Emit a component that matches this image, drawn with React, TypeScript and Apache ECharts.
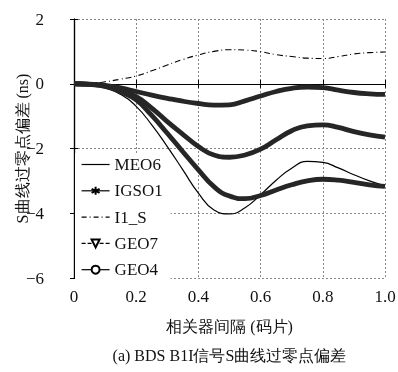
import React, { useEffect, useRef } from "react";
import * as echarts from "echarts";

const xs = [0, 0.05, 0.1, 0.15, 0.2, 0.25, 0.3, 0.35, 0.4, 0.45, 0.5, 0.55, 0.6, 0.65, 0.7, 0.75, 0.8, 0.85, 0.9, 0.95, 1.0];
const meo6 = [0, -0.02, -0.12, -0.33, -0.7, -1.27, -1.94, -2.66, -3.38, -3.9, -4.02, -3.83, -3.43, -2.98, -2.61, -2.4, -2.43, -2.6, -2.81, -3.0, -3.15];
const igso1 = [0, -0.02, -0.07, -0.2, -0.4, -0.75, -1.17, -1.56, -1.94, -2.2, -2.27, -2.2, -2.02, -1.73, -1.45, -1.3, -1.27, -1.35, -1.48, -1.58, -1.65];
const i1s = [0, 0, 0.06, 0.14, 0.24, 0.4, 0.58, 0.75, 0.89, 1.0, 1.05, 1.04, 0.99, 0.9, 0.84, 0.79, 0.78, 0.84, 0.92, 0.96, 0.98];
const geo7 = [0, -0.02, -0.08, -0.25, -0.5, -0.98, -1.53, -2.1, -2.66, -3.18, -3.47, -3.55, -3.45, -3.28, -3.12, -3.0, -2.95, -2.98, -3.05, -3.12, -3.17];
const geo4 = [0, -0.01, -0.05, -0.13, -0.24, -0.35, -0.45, -0.54, -0.61, -0.66, -0.65, -0.53, -0.38, -0.24, -0.14, -0.1, -0.12, -0.2, -0.27, -0.31, -0.33];

const seriesNames = ["MEO6", "IGSO1", "I1_S", "GEO7", "GEO4"];
const xAxisTitle = "相关器间隔 (码片)";
const yAxisTitle = "S曲线过零点偏差 (ns)";
const caption = "(a) BDS B1I信号S曲线过零点偏差";

const FONT = "Liberation Serif";
const asterisk = "path://M0,-5L0,5M-4.33,-2.5L4.33,2.5M-4.33,2.5L4.33,-2.5";

const pair = (ys: number[]) => xs.map((x, i) => [x, ys[i]]);

export default function App() {
  const ref = useRef<HTMLDivElement>(null);
  useEffect(() => {
    if (!ref.current) return;
    const chart = echarts.init(ref.current, null, { renderer: "svg" });
    const fmtY = (v: number) => (v < 0 ? "\u2212" + Math.abs(v) : String(v));
    const axisCommon = {
      axisLine: { show: true, lineStyle: { color: "#000", width: 1.2 } },
      axisTick: { show: true, inside: true, length: 4, lineStyle: { color: "#000" } },
    };
    const thick = (name: string, data: number[], symbol: string, rot = 0) => ({
      name,
      type: "line",
      data: pair(data),
      smooth: true,
      symbol,
      symbolRotate: rot,
      symbolSize: 8,
      showSymbol: false,
      lineStyle: { color: "#262626", width: 4.8 },
      itemStyle: { color: "#fff", borderColor: "#000", borderWidth: 1.2 },
    });
    chart.setOption({
      animation: false,
      textStyle: { fontFamily: FONT },
      grid: { left: 74, right: 13, top: 19, bottom: 94, containLabel: false, outerBoundsMode: "none" },
      xAxis: [
        {
          type: "value",
          min: 0,
          max: 1,
          interval: 0.2,
          ...axisCommon,
          axisLabel: {
            fontFamily: FONT,
            fontSize: 17,
            color: "#111",
            margin: 10,
            formatter: (v: number) => (v === 0 ? "0" : v.toFixed(1)),
          },
          splitLine: { show: true, lineStyle: { type: [2, 2], color: "#888", width: 1 } },
          name: xAxisTitle,
          nameLocation: "middle",
          nameGap: 40,
          nameTextStyle: { fontFamily: FONT, fontSize: 16, color: "#111" },
        },
        {
          type: "value",
          position: "top",
          min: 0,
          max: 1,
          interval: 0.2,
          ...axisCommon,
          axisLabel: { show: false },
          splitLine: { show: false },
        },
      ],
      yAxis: [
        {
          type: "value",
          min: -6,
          max: 2,
          interval: 2,
          ...axisCommon,
          axisLabel: {
            fontFamily: FONT,
            fontSize: 17,
            color: "#111",
            margin: 16,
            padding: [0, 14, 0, 0],
            formatter: fmtY,
          },
          splitLine: { show: true, lineStyle: { type: [2, 2], color: "#888", width: 1 } },
        },
        {
          type: "value",
          position: "right",
          min: -6,
          max: 2,
          interval: 2,
          ...axisCommon,
          axisLabel: { show: false },
          splitLine: { show: false },
        },
      ],
      legend: {
        orient: "vertical",
        left: 75,
        top: 153,
        padding: [3, 8, 3, 6],
        itemGap: 9.3,
        itemWidth: 28,
        itemHeight: 10,
        backgroundColor: "#fff",
        textStyle: { fontFamily: FONT, fontSize: 17, color: "#111" },
        lineStyle: { width: 1.2, color: "#000" },
        data: [
          { name: "MEO6", itemStyle: { opacity: 0 } },
          { name: "IGSO1" },
          { name: "I1_S", itemStyle: { opacity: 0 }, lineStyle: { type: [5, 3, 1, 3] } },
          { name: "GEO7", lineStyle: { type: [4, 2] } },
          { name: "GEO4" },
        ],
      },
      series: [
        {
          name: seriesNames[0],
          type: "line",
          data: pair(meo6),
          smooth: true,
          symbol: "none",
          lineStyle: { color: "#000", width: 1.2 },
          itemStyle: { color: "#000" },
        },
        thick(seriesNames[1], igso1, asterisk),
        {
          name: seriesNames[2],
          type: "line",
          data: pair(i1s),
          smooth: true,
          symbol: "none",
          lineStyle: { color: "#000", width: 1.1, type: [6, 3, 1, 3] },
          itemStyle: { color: "#000" },
        },
        thick(seriesNames[3], geo7, "triangle", 180),
        thick(seriesNames[4], geo4, "circle"),
      ],
      graphic: [
        {
          type: "text",
          x: 22,
          y: 148.5,
          rotation: Math.PI / 2,
          style: {
            text: yAxisTitle,
            fontFamily: FONT,
            fontSize: 16,
            fill: "#111",
            align: "center",
            verticalAlign: "middle",
          },
        },
        {
          type: "text",
          x: 229.5,
          y: 355,
          style: {
            text: caption,
            fontFamily: FONT,
            fontSize: 16,
            fill: "#111",
            align: "center",
            verticalAlign: "middle",
          },
        },
      ],
    });
    return () => chart.dispose();
  }, []);
  return (
    <div
      ref={ref}
      style={{ position: "fixed", left: 0, top: 0, width: 398, height: 372 }}
    />
  );
}
